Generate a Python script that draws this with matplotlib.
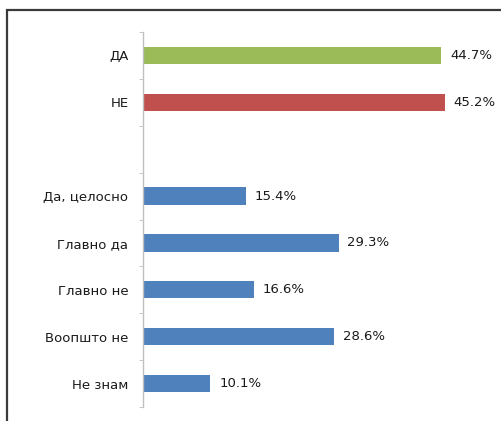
import matplotlib.pyplot as plt
import numpy as np
from matplotlib.patches import Rectangle

# answers, top to bottom; the empty entry leaves a gap between the two groups
labels = ['ДА', 'НЕ', '', 'Да, целосно', 'Главно да', 'Главно не', 'Воопшто не', 'Не знам']
values = [44.7, 45.2, None, 15.4, 29.3, 16.6, 28.6, 10.1]
colors = ['#9BBB59', '#C0504D', None, '#4F81BD', '#4F81BD', '#4F81BD', '#4F81BD', '#4F81BD']

plt.rcParams['font.family'] = ['DejaVu Sans']

fig = plt.figure(figsize=(5.02, 4.21), dpi=100)
fig.patch.set_facecolor('white')

# frame around the chart
fig.patches.append(Rectangle((7 / 502, -0.1), 1.2, 1.1 - 10 / 421,
                             transform=fig.transFigure, fill=False,
                             edgecolor='#3a3a3a', linewidth=1.6))

ax = fig.add_axes([143 / 502, 1 - 407 / 421, 347 / 502, 375 / 421])

pos = np.arange(len(labels))
for i in range(len(labels)):
    if values[i] is None:
        continue
    ax.barh(pos[i], values[i], height=0.37, color=colors[i])
    ax.text(values[i] + 1.3, pos[i], '%.1f%%' % values[i], va='center', ha='left',
            fontsize=9.5, color='#1a1a1a')

ax.set_xlim(0, 52)
ax.set_ylim(len(labels) - 0.5, -0.5)

ax.set_yticks(pos)
ax.set_yticklabels(labels, fontsize=9.5, color='#1a1a1a')
ax.tick_params(axis='y', which='major', length=0, pad=10.5)
ax.set_yticks(np.arange(-0.5, len(labels), 1.0), minor=True)
ax.tick_params(axis='y', which='minor', length=3, color='#bfbfbf', direction='out')

ax.set_xticks([])
for s in ['top', 'right', 'bottom']:
    ax.spines[s].set_visible(False)
ax.spines['left'].set_color('#bfbfbf')
ax.spines['left'].set_linewidth(1.0)

plt.savefig('out.png', dpi=100)
